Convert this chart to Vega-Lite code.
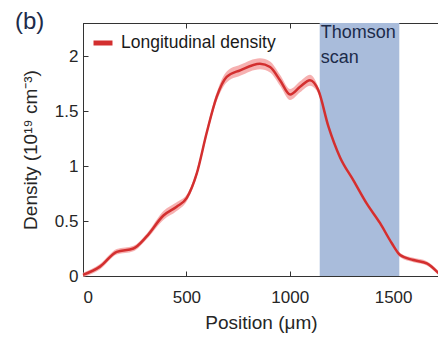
{
  "$schema": "https://vega.github.io/schema/vega-lite/v6.json",
  "autosize": "none",
  "width": 356,
  "height": 253,
  "padding": {"left": 83, "top": 23, "right": 0, "bottom": 62},
  "background": "white",
  "config": {
    "font": "Liberation Sans",
    "view": {"stroke": "#333333", "strokeWidth": 1},
    "axis": {"grid": false, "domainColor": "#333333", "tickColor": "#333333", "labelColor": "#262626", "titleColor": "#262626", "labelFontSize": 17, "titleFontSize": 19, "titleFontWeight": "normal", "tickSize": -5}
  },
  "title": {"text": "(b)", "anchor": "start", "frame": "group", "fontSize": 24, "fontWeight": "normal", "color": "#1c2b4a", "dx": -68, "dy": 30, "offset": 0, "baseline": "alphabetic"},
  "data": {"values": [
    {"pos": 0, "dens": 0.01, "lo": -0.01, "hi": 0.03},
    {"pos": 82, "dens": 0.085, "lo": 0.06, "hi": 0.11},
    {"pos": 163, "dens": 0.22, "lo": 0.195, "hi": 0.245},
    {"pos": 244, "dens": 0.25, "lo": 0.225, "hi": 0.275},
    {"pos": 308, "dens": 0.36, "lo": 0.335, "hi": 0.385},
    {"pos": 389, "dens": 0.55, "lo": 0.51, "hi": 0.59},
    {"pos": 453, "dens": 0.63, "lo": 0.59, "hi": 0.67},
    {"pos": 502, "dens": 0.71, "lo": 0.68, "hi": 0.74},
    {"pos": 550, "dens": 0.93, "lo": 0.9, "hi": 0.96},
    {"pos": 598, "dens": 1.3, "lo": 1.27, "hi": 1.33},
    {"pos": 647, "dens": 1.63, "lo": 1.59, "hi": 1.67},
    {"pos": 695, "dens": 1.81, "lo": 1.76, "hi": 1.86},
    {"pos": 760, "dens": 1.87, "lo": 1.82, "hi": 1.92},
    {"pos": 856, "dens": 1.93, "lo": 1.88, "hi": 1.98},
    {"pos": 905, "dens": 1.9, "lo": 1.85, "hi": 1.95},
    {"pos": 953, "dens": 1.78, "lo": 1.73, "hi": 1.83},
    {"pos": 1002, "dens": 1.65, "lo": 1.6, "hi": 1.7},
    {"pos": 1050, "dens": 1.72, "lo": 1.67, "hi": 1.77},
    {"pos": 1098, "dens": 1.78, "lo": 1.73, "hi": 1.83},
    {"pos": 1138, "dens": 1.69, "lo": 1.66, "hi": 1.72},
    {"pos": 1187, "dens": 1.36, "lo": 1.34, "hi": 1.38},
    {"pos": 1243, "dens": 1.08, "lo": 1.06, "hi": 1.1},
    {"pos": 1308, "dens": 0.87, "lo": 0.85, "hi": 0.89},
    {"pos": 1372, "dens": 0.66, "lo": 0.64, "hi": 0.68},
    {"pos": 1437, "dens": 0.48, "lo": 0.46, "hi": 0.5},
    {"pos": 1493, "dens": 0.3, "lo": 0.28, "hi": 0.32},
    {"pos": 1534, "dens": 0.19, "lo": 0.17, "hi": 0.21},
    {"pos": 1598, "dens": 0.145, "lo": 0.125, "hi": 0.165},
    {"pos": 1663, "dens": 0.115, "lo": 0.095, "hi": 0.135},
    {"pos": 1720, "dens": 0.025, "lo": 0.005, "hi": 0.045}
  ]},
  "layer": [
    {
      "data": {"values": [{"start": 1145, "end": 1530, "top": 2.3, "bottom": 0}]},
      "mark": {"type": "rect", "color": "#a9bcdb", "opacity": 1},
      "encoding": {
        "x": {"field": "start", "type": "quantitative", "scale": {"domain": [0, 1722], "nice": false}, "axis": {"title": "Position (μm)", "values": [0, 500, 1000, 1500], "format": "d", "labelPadding": 18, "titlePadding": 8}},
        "x2": {"field": "end"},
        "y": {"field": "top", "type": "quantitative", "scale": {"domain": [0, 2.3], "nice": false}, "axis": {"title": "Density (10¹⁹ cm⁻³)", "values": [0, 0.5, 1, 1.5, 2], "format": "~g", "labelPadding": 10, "titlePadding": 14}},
        "y2": {"field": "bottom"}
      }
    },
    {
      "mark": {"type": "area", "color": "#f4a3a3", "opacity": 0.85, "interpolate": "monotone"},
      "encoding": {
        "x": {"field": "pos", "type": "quantitative", "axis": {"orient": "top", "labels": false, "title": null, "values": [0, 500, 1000, 1500], "domainColor": "#333333"}},
        "y": {"field": "lo", "type": "quantitative"},
        "y2": {"field": "hi"}
      }
    },
    {
      "mark": {"type": "line", "strokeWidth": 2.5, "interpolate": "monotone"},
      "encoding": {
        "x": {"field": "pos", "type": "quantitative", "axis": null},
        "y": {"field": "dens", "type": "quantitative"},
        "color": {"datum": "Longitudinal density", "scale": {"range": ["#d32f2f"]}, "legend": {"title": null, "orient": "top-left", "offset": 8, "labelFontSize": 17.5, "labelColor": "#1a1a1a", "labelOffset": 6, "symbolStrokeWidth": 5, "symbolSize": 360, "padding": 0}}
      }
    },
    {
      "data": {"values": [{"x": 1150, "y": 2.3, "label": "Thomson\nscan"}]},
      "mark": {"type": "text", "align": "left", "baseline": "top", "fontSize": 18, "color": "#1c2b4a", "lineBreak": "\n", "lineHeight": 25, "dy": 1},
      "encoding": {
        "x": {"field": "x", "type": "quantitative", "axis": null},
        "y": {"field": "y", "type": "quantitative"},
        "text": {"field": "label"}
      }
    }
  ],
  "resolve": {"axis": {"x": "independent"}}
}
